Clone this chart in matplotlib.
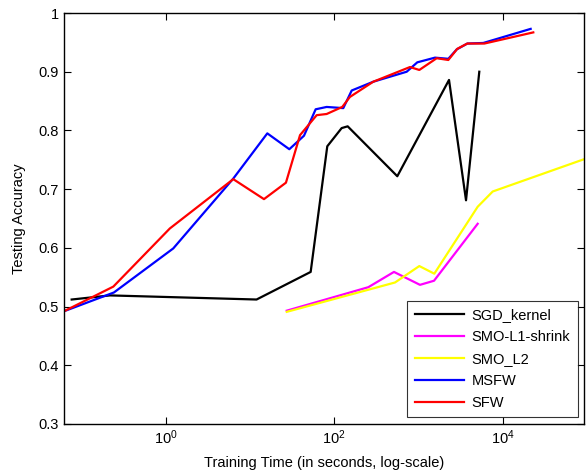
"""
Testing accuracy vs training time (log-scale), five solvers
"""

import matplotlib
matplotlib.use('Agg')
import matplotlib.pyplot as plt
from matplotlib.ticker import NullLocator

plt.rcParams['font.family'] = ['Liberation Sans', 'DejaVu Sans']
plt.rcParams['mathtext.fontset'] = 'custom'
plt.rcParams['mathtext.rm'] = 'Liberation Sans'
plt.rcParams['mathtext.it'] = 'Liberation Sans:italic'

# SGD_kernel
sgd_t = [0.0765, 0.218, 12.0, 52.7, 83, 123, 145, 563, 2316, 3687, 5300]
sgd_acc = [0.512, 0.519, 0.512, 0.559, 0.773, 0.804, 0.807, 0.722, 0.886, 0.681, 0.900]

# SMO-L1-shrink
smo1_t = [27.4, 255, 514, 1047, 1538, 5070]
smo1_acc = [0.493, 0.533, 0.559, 0.537, 0.544, 0.641]

# SMO_L2
smo2_t = [27.4, 529, 1028, 1549, 5070, 7650, 93000]
smo2_acc = [0.491, 0.541, 0.569, 0.556, 0.670, 0.696, 0.751]

# MSFW
msfw_t = [0.062, 0.243, 1.23, 6.35, 16.1, 29.4, 43.9, 60.4, 81.6, 128.6, 161.8,
          292, 728, 973, 1578, 2273, 2858, 3820, 5918, 21600]
msfw_acc = [0.492, 0.524, 0.599, 0.718, 0.795, 0.768, 0.791, 0.836, 0.840, 0.838, 0.868,
            0.883, 0.900, 0.916, 0.924, 0.922, 0.938, 0.948, 0.949, 0.973]

# SFW
sfw_t = [0.062, 0.239, 1.12, 6.35, 14.7, 26.8, 39.4, 62.1, 81.6, 125, 154,
         292, 797, 1028, 1653, 2273, 2904, 3820, 6090, 23200]
sfw_acc = [0.492, 0.534, 0.633, 0.717, 0.683, 0.711, 0.792, 0.826, 0.828, 0.840, 0.857,
           0.883, 0.908, 0.903, 0.923, 0.920, 0.939, 0.948, 0.948, 0.967]

x_ticks = [1, 100, 10000]
y_ticks = [0.3, 0.4, 0.5, 0.6, 0.7, 0.8, 0.9, 1.0]
y_ticklabels = ['0.3', '0.4', '0.5', '0.6', '0.7', '0.8', '0.9', '1']

SERIES = [
    ('SGD_kernel', sgd_t, sgd_acc, 'black'),
    ('SMO-L1-shrink', smo1_t, smo1_acc, '#ff00ff'),
    ('SMO_L2', smo2_t, smo2_acc, '#ffff00'),
    ('MSFW', msfw_t, msfw_acc, '#0000ff'),
    ('SFW', sfw_t, sfw_acc, '#ff0000'),
]


def main():
    fig = plt.figure(figsize=(5.87, 4.75), dpi=100)
    ax = fig.add_axes([0.109, 0.1074, 0.886, 0.8652])

    for name, t, acc, color in SERIES:
        ax.plot(t, acc, color=color, linewidth=1.6, label=name)

    ax.set_xscale('log')
    ax.set_xlim(0.062, 93000)
    ax.set_ylim(0.3, 1.0)
    ax.set_xticks(x_ticks)
    ax.xaxis.set_minor_locator(NullLocator())
    ax.set_yticks(y_ticks)
    ax.set_yticklabels(y_ticklabels)
    ax.tick_params(direction='in', length=5, width=0.8, top=True, right=True,
                   labelsize=10.5, colors='black')
    for sp in ax.spines.values():
        sp.set_linewidth(1.0)

    ax.set_xlabel('Training Time (in seconds, log-scale)', fontsize=10.5, labelpad=6)
    ax.set_ylabel('Testing Accuracy', fontsize=10.5, labelpad=9)

    leg = ax.legend(loc='lower right', fontsize=10.5, frameon=True, fancybox=False,
                    edgecolor='black', handlelength=3.4, handletextpad=0.5,
                    borderaxespad=0.45, labelspacing=0.55, borderpad=0.5)
    leg.get_frame().set_linewidth(0.8)

    fig.savefig('out.png', dpi=100)
    plt.close(fig)


if __name__ == "__main__":
    main()
